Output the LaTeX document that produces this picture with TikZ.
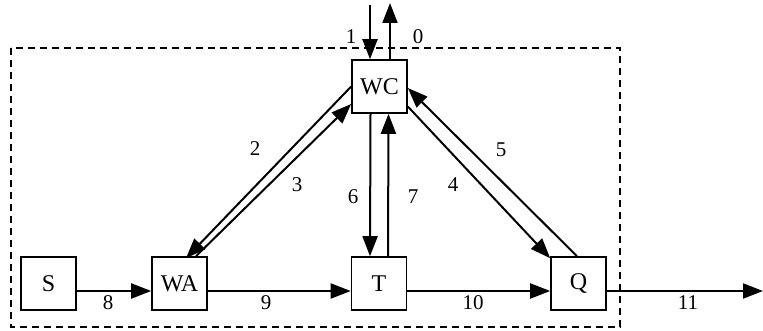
\documentclass[tikz,border=0pt]{standalone}
\usepackage{fontspec}
\setmainfont{Liberation Serif}
\usetikzlibrary{arrows.meta}
\begin{document}
\begin{tikzpicture}[x=1pt,y=-1pt,
  box/.style={draw,line width=1.6pt,minimum width=55pt,minimum height=53pt,inner sep=0pt,font=\fontsize{24}{24}\selectfont},
  flow/.style={line width=2pt,-{Triangle[length=20pt,width=15pt]}},
  lab/.style={font=\fontsize{21}{21}\selectfont,inner sep=0pt},
  frame/.style={draw,line width=1.4pt,dash pattern=on 7pt off 5pt}]
\useasboundingbox (0,0) rectangle (763,331);
\draw[frame] (11,48) rectangle (620,327);
\node[box] (WC) at (379.5,86.5) {WC};
\node[box] (S) at (48.5,283.5) {S};
\node[box] (WA) at (179.5,283.5) {WA};
\node[box] (T) at (379,283.5) {T};
\node[box] (Q) at (578.5,283.5) {Q};
\coordinate (in1) at (370,5);
\coordinate (out0) at (390,3);
\coordinate (out11) at (763,291);
% 1 and 0
\draw[flow] (in1) -- ([xshift=-9.5pt]WC.north);
\draw[flow] ([xshift=10.5pt]WC.north) -- (out0);
% 6 and 7
\draw[flow] ([xshift=-9pt]WC.south) -- ([xshift=-9pt]T.north);
\draw[flow] ([xshift=9pt]T.north) -- ([xshift=9pt]WC.south);
% 2 and 3
\draw[flow] (WC.west) -- ([xshift=6.5pt,yshift=-2pt]WA.north);
\draw[flow] ([xshift=16.5pt]WA.north) -- ([yshift=-17.5pt]WC.west);
% 4 and 5
\draw[flow] ([yshift=-20pt]WC.east) -- ([yshift=-2pt]Q.north west);
\draw[flow] ([xshift=-1.5pt]Q.north) -- ([yshift=-1.5pt]WC.east);
% horizontal
\draw[flow] ([yshift=-7.5pt]S.east) -- ([yshift=-7.5pt]WA.west);
\draw[flow] ([yshift=-7.5pt]WA.east) -- ([yshift=-7.5pt]T.west);
\draw[flow] ([yshift=-7.5pt]T.east) -- ([yshift=-7.5pt]Q.west);
\draw[flow] ([yshift=-7.5pt]Q.east) -- (out11);
% labels
\node[lab] (l1) at (351,37) {1};
\node[lab] (l0) at (418,37) {0};
\node[lab] (l2) at (255,149) {2};
\node[lab] (l3) at (297,185) {3};
\node[lab] (l6) at (353,197) {6};
\node[lab] (l7) at (413,197) {7};
\node[lab] (l4) at (453,185) {4};
\node[lab] (l5) at (501,150) {5};
\node[lab] (l8) at (108,303) {8};
\node[lab] (l9) at (266,303) {9};
\node[lab] (l10) at (473,303) {10};
\node[lab] (l11) at (688,303) {11};
\end{tikzpicture}
\end{document}
